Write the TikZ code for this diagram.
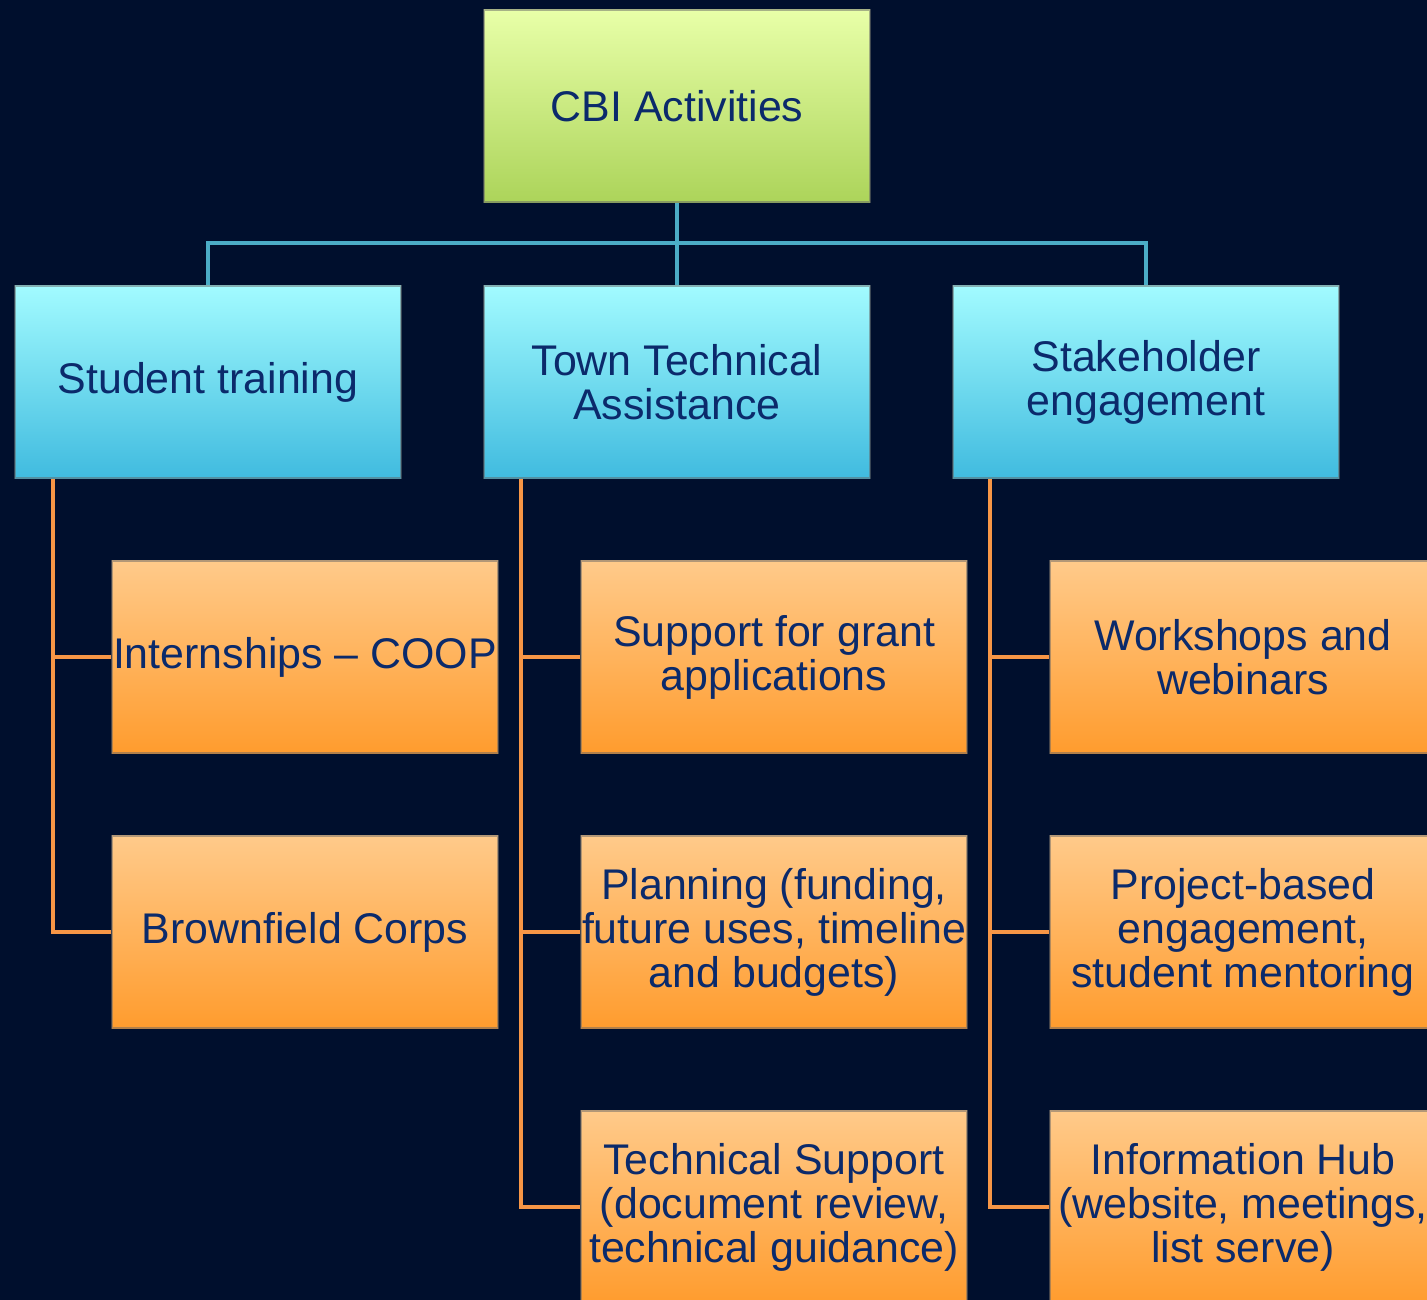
\documentclass[tikz,border=0pt]{standalone}
\usepackage{fontspec}
\setmainfont{Liberation Sans}
\usetikzlibrary{positioning}
\definecolor{bgnavy}{HTML}{000F2D}
\definecolor{txtnavy}{HTML}{0B2A6B}
\definecolor{greentop}{HTML}{E8FFA8}
\definecolor{greenbot}{HTML}{ACD45A}
\definecolor{bluetop}{HTML}{A2FBFF}
\definecolor{bluebot}{HTML}{40BBDF}
\definecolor{orangetop}{HTML}{FFCA8A}
\definecolor{orangebot}{HTML}{FF9C2E}
\definecolor{blueline}{HTML}{4BACC6}
\definecolor{orangeline}{HTML}{F79646}
\tikzset{
  box/.style={rectangle,minimum width=3.86cm,minimum height=1.92cm,inner sep=0pt,
    align=center,text=txtnavy,font=\fontsize{12.2pt}{12.5pt}\selectfont,
    draw=black!60,draw opacity=0.5,line width=0.5pt},
  rootbox/.style={box,top color=greentop,bottom color=greenbot},
  topicbox/.style={box,top color=bluetop,bottom color=bluebot},
  taskbox/.style={box,top color=orangetop,bottom color=orangebot},
  bluelink/.style={draw=blueline,line width=1.2pt},
  orangelink/.style={draw=orangeline,line width=1.2pt}
}

\begin{document}
\begin{tikzpicture}[x=0.01cm,y=-0.01cm]
\fill[bgnavy] (0,0) rectangle (1427,1300);
\useasboundingbox (0,0) rectangle (1427,1300);
% connectors first, boxes on top
\coordinate (hbar) at (677,243);
\node (root) [rootbox] at (677,106) {CBI Activities};
\node (student) [topicbox] at (208,382) {Student training};
\node (town) [topicbox] at (677,382) {Town Technical\\Assistance};
\node (stake) [topicbox] at (1146,382) {Stakeholder\\engagement};
\node (intern) [taskbox] at (305,657) {Internships -- COOP};
\node (corps) [taskbox] at (305,932) {Brownfield Corps};
\node (grant) [taskbox] at (774,657) {Support for grant\\applications};
\node (plan) [taskbox] at (774,932) {Planning (funding,\\future uses, timeline\\and budgets)};
\node (techsup) [taskbox] at (774,1207) {Technical Support\\(document review,\\technical guidance)};
\node (work) [taskbox] at (1243,657) {Workshops and\\webinars};
\node (project) [taskbox] at (1243,932) {Project-based\\engagement,\\student mentoring};
\node (hub) [taskbox] at (1243,1207) {Information Hub\\(website, meetings,\\list serve)};
\draw[bluelink] (root.south) -- (hbar);
\draw[bluelink] (hbar) -| (student.north);
\draw[bluelink] (hbar) -- (town.north);
\draw[bluelink] (hbar) -| (stake.north);
\draw[orangelink] (student.south west) ++(39,0) |- (intern.west);
\draw[orangelink] (student.south west) ++(39,0) |- (corps.west);
\draw[orangelink] (town.south west) ++(38,0) |- (grant.west);
\draw[orangelink] (town.south west) ++(38,0) |- (plan.west);
\draw[orangelink] (town.south west) ++(38,0) |- (techsup.west);
\draw[orangelink] (stake.south west) ++(38,0) |- (work.west);
\draw[orangelink] (stake.south west) ++(38,0) |- (project.west);
\draw[orangelink] (stake.south west) ++(38,0) |- (hub.west);
\end{tikzpicture}
\end{document}
